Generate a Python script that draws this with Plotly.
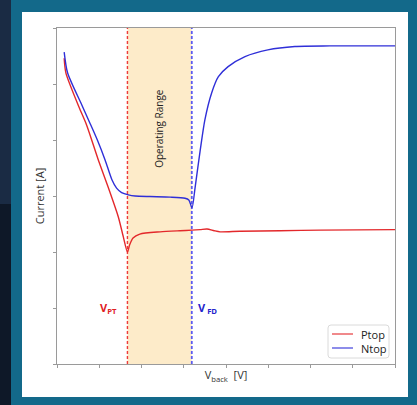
import plotly.graph_objects as go

# Back-bias sweep (arbitrary units on both axes)
x_ntop = [0.17, 0.25, 0.59, 0.78, 0.96, 1.14, 1.30, 1.41, 1.53, 1.69, 1.85, 2.20,
          2.68, 3.03, 3.12, 3.195, 3.27, 3.39, 3.50, 3.66, 3.82, 4.05, 4.45, 4.99,
          5.63, 6.46, 8.00]
i_ntop = [5.57, 5.20, 4.62, 4.30, 3.99, 3.64, 3.29, 3.14, 3.06, 3.02, 3.00, 2.99,
          2.98, 2.96, 2.93, 2.79, 3.16, 3.82, 4.36, 4.84, 5.13, 5.31, 5.49, 5.61,
          5.67, 5.68, 5.68]

x_ptop = [0.17, 0.21, 0.52, 0.70, 0.98, 1.21, 1.45, 1.57, 1.667, 1.72, 1.80, 1.96,
          2.44, 2.91, 3.195, 3.39, 3.55, 3.72, 3.86, 4.33, 5.28, 6.23, 8.00]
i_ptop = [5.46, 5.20, 4.59, 4.27, 3.64, 3.16, 2.63, 2.27, 2.00, 2.13, 2.25, 2.32,
          2.36, 2.38, 2.39, 2.40, 2.41, 2.38, 2.36, 2.37, 2.38, 2.39, 2.40]

v_pt = 1.667  # punch-through voltage
v_fd = 3.19   # full-depletion voltage
x_ticks = [0, 1, 2, 3, 4, 5, 6, 7, 8]
y_ticks = [0, 1, 2, 3, 4, 5, 6]
legend_names = ["Ptop", "Ntop"]

RED = "#e3282b"
BLUE = "#2f2fd8"
FONT = "Open Sans"

# plot area in pixels (for placing the framing and legend box)
W, H = 417, 405
L, R, T, B = 57, 22, 28, 41
pw, ph = W - L - R, H - T - B


def px(xp):
    return (xp - L) / pw


def py(yp):
    return (H - B - yp) / ph


fig = go.Figure()

# operating range boundaries
fig.add_trace(go.Scatter(x=[v_pt, v_pt], y=[0, 6], mode="lines", showlegend=False,
                         hoverinfo="skip",
                         line=dict(color="#ee3a3a", width=1.4, dash="3px,2px")))
fig.add_trace(go.Scatter(x=[v_fd, v_fd], y=[0, 6], mode="lines", showlegend=False,
                         hoverinfo="skip",
                         line=dict(color="#5c5cf0", width=1.8, dash="3px,2px")))

fig.add_trace(go.Scatter(x=x_ptop, y=i_ptop, mode="lines", name=legend_names[0],
                         showlegend=False,
                         line=dict(color=RED, width=1.4, shape="spline", smoothing=0.7)))
fig.add_trace(go.Scatter(x=x_ntop, y=i_ntop, mode="lines", name=legend_names[1],
                         showlegend=False,
                         line=dict(color=BLUE, width=1.4, shape="spline", smoothing=0.7)))

# legend box (compact, drawn in paper space)
bx0, bx1, by0, by1, rr = px(328), px(389), py(358), py(325), 3
rx, ry = rr / pw, rr / ph
box_path = (f"M{bx0 + rx},{by0} L{bx1 - rx},{by0} Q{bx1},{by0} {bx1},{by0 + ry} "
            f"L{bx1},{by1 - ry} Q{bx1},{by1} {bx1 - rx},{by1} "
            f"L{bx0 + rx},{by1} Q{bx0},{by1} {bx0},{by1 - ry} "
            f"L{bx0},{by0 + ry} Q{bx0},{by0} {bx0 + rx},{by0} Z")

shapes = [
    # background framing
    dict(type="rect", xref="paper", yref="paper", x0=px(0), x1=px(11), y0=py(0), y1=py(204),
         fillcolor="#1a2b44", line_width=0, layer="below"),
    dict(type="rect", xref="paper", yref="paper", x0=px(0), x1=px(11), y0=py(204), y1=py(H),
         fillcolor="#0e1828", line_width=0, layer="below"),
    dict(type="rect", xref="paper", yref="paper", x0=px(22), x1=px(408), y0=py(12), y1=py(397),
         fillcolor="white", line_width=0, layer="below"),
    # operating range band
    dict(type="rect", xref="x", yref="y", x0=v_pt, x1=v_fd, y0=0, y1=6,
         fillcolor="#fdebc9", line_width=0, layer="below"),
    # legend
    dict(type="path", xref="paper", yref="paper", path=box_path,
         fillcolor="white", line=dict(color="#dadada", width=1)),
    dict(type="line", xref="paper", yref="paper", x0=px(332), x1=px(353), y0=py(334), y1=py(334),
         line=dict(color="rgba(227,40,43,0.55)", width=2)),
    dict(type="line", xref="paper", yref="paper", x0=px(332), x1=px(353), y0=py(348), y1=py(348),
         line=dict(color="rgba(47,47,216,0.55)", width=2)),
]

annotations = [
    dict(x=(v_pt + v_fd) / 2, y=4.21, xref="x", yref="y", text="Operating Range",
         textangle=-90, showarrow=False, font=dict(family=FONT, size=10, color="#222")),
    dict(x=1.21, y=1.0, xref="x", yref="y", text="<b>V<sub>PT</sub></b>",
         showarrow=False, font=dict(family=FONT, size=11, color="#e0201f")),
    dict(x=3.57, y=1.0, xref="x", yref="y", text="<b>V<sub> FD</sub></b>",
         showarrow=False, font=dict(family=FONT, size=11, color="#2424cc")),
    dict(x=px(359), y=py(334), xref="paper", yref="paper", text=legend_names[0],
         xanchor="left", yanchor="middle", showarrow=False,
         font=dict(family=FONT, size=11, color="#222")),
    dict(x=px(359), y=py(348), xref="paper", yref="paper", text=legend_names[1],
         xanchor="left", yanchor="middle", showarrow=False,
         font=dict(family=FONT, size=11, color="#222")),
]

axis_common = dict(showline=True, linecolor="#9a9a9a", linewidth=1, mirror=True,
                   showgrid=False, zeroline=False, showticklabels=False,
                   ticks="outside", ticklen=3, tickcolor="#9a9a9a", tickwidth=1)

fig.update_layout(
    width=W, height=H,
    margin=dict(l=L, r=R, t=T, b=B),
    paper_bgcolor="#13698a",
    plot_bgcolor="rgba(0,0,0,0)",
    font=dict(family=FONT, size=11, color="#333"),
    shapes=shapes,
    annotations=annotations,
    showlegend=False,
    xaxis=dict(range=[0, 8], tickvals=x_ticks,
               title=dict(text="V<sub>back</sub>  [V]", standoff=4,
                          font=dict(family=FONT, size=11, color="#333")),
               **axis_common),
    yaxis=dict(range=[0, 6], tickvals=y_ticks,
               title=dict(text="Current [A]", standoff=6,
                          font=dict(family=FONT, size=11, color="#333")),
               **axis_common),
)

fig.write_html("out.html")
